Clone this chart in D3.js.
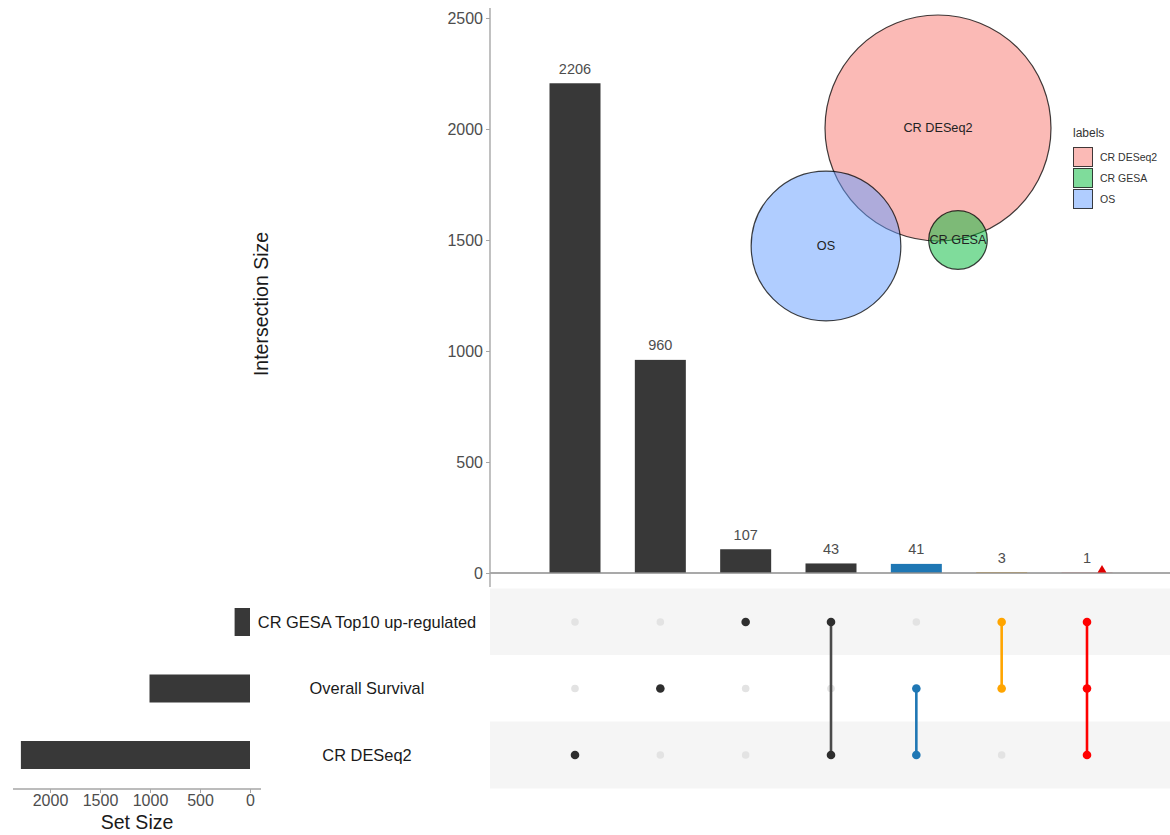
<!DOCTYPE html>
<html>
<head>
<meta charset="utf-8">
<script src="https://cdn.jsdelivr.net/npm/d3@7"></script>
<style>
  html, body { margin: 0; padding: 0; background: #ffffff; }
  svg { display: block; font-family: "Liberation Sans", Arial, Helvetica, sans-serif; }
</style>
</head>
<body>
<svg id="chart" width="1170" height="835"></svg>
<script>
// ---- data ----
const setNames = ["CR GESA Top10 up-regulated", "Overall Survival", "CR DESeq2"];
const setSizes = [154, 1005, 2291];
const intersectionSizes = [2206, 960, 107, 43, 41, 3, 1];
const intersectionMembers = [
  ["CR DESeq2"],
  ["Overall Survival"],
  ["CR GESA Top10 up-regulated"],
  ["CR GESA Top10 up-regulated", "CR DESeq2"],
  ["Overall Survival", "CR DESeq2"],
  ["CR GESA Top10 up-regulated", "Overall Survival"],
  ["CR GESA Top10 up-regulated", "Overall Survival", "CR DESeq2"]
];
const intersectionColors = ["#383838", "#383838", "#383838", "#383838", "#1f77b4", "#ffa500", "#ff0000"];
const yTicks = [0, 500, 1000, 1500, 2000, 2500];
const setSizeTicks = [0, 500, 1000, 1500, 2000];
const vennLabels = ["CR DESeq2", "CR GESA", "OS"];
const vennSizes = [2291, 154, 1005];
const vennFills = ["#F8766D", "#00BA38", "#619CFF"];

// ---- layout ----
const svg = d3.select("#chart");
const grey = "#4d4d4d";
const axisGrey = "#a6a6a6";
const fmt = d3.format("d");

const x = d3.scalePoint().domain(d3.range(intersectionSizes.length)).range([575, 1087]);
const y = d3.scaleLinear().domain([0, 2500]).range([573, 18]);
const rowY = d3.scalePoint().domain(setNames).range([622, 755]);
const setX = d3.scaleLinear().domain([0, 2000]).range([250, 50]);
const barW = 51;
const rowH = 67;

// matrix background stripes
svg.append("g").selectAll("rect").data(setNames).join("rect")
  .attr("x", 490).attr("width", 680)
  .attr("y", d => rowY(d) - rowH / 2).attr("height", rowH)
  .attr("fill", (d, i) => i % 2 === 0 ? "#f5f5f5" : "#ffffff");

// intersection bars
svg.append("g").selectAll("rect").data(intersectionSizes).join("rect")
  .attr("x", (d, i) => x(i) - barW / 2).attr("width", barW)
  .attr("y", d => y(d)).attr("height", d => y(0) - y(d))
  .attr("fill", (d, i) => intersectionColors[i]);

// bar value labels
svg.append("g").selectAll("text").data(intersectionSizes).join("text")
  .attr("x", (d, i) => x(i)).attr("y", d => y(d) - 9.5)
  .attr("text-anchor", "middle").attr("font-size", 14.5).attr("fill", grey)
  .text(d => d);

// baseline and y axis
svg.append("line").attr("x1", 490).attr("x2", 1170).attr("y1", y(0)).attr("y2", y(0))
  .attr("stroke", "#8c8c8c").attr("stroke-width", 1.4);

// highlight marker for the three-way intersection
const lastIdx = intersectionSizes.length - 1;
svg.append("path")
  .attr("d", d3.symbol(d3.symbolTriangle, 34)())
  .attr("transform", `translate(${x(lastIdx) + 15},${y(0) - 3})`)
  .attr("fill", "#e00000");

const yAxis = svg.append("g").attr("transform", "translate(490,0)")
  .call(d3.axisLeft(y).tickValues(yTicks).tickFormat(fmt).tickSize(4).tickPadding(3));
yAxis.select(".domain").remove();
yAxis.selectAll(".tick line").attr("stroke", axisGrey);
yAxis.selectAll(".tick text").attr("font-size", 16).attr("fill", grey)
  .attr("font-family", "Liberation Sans, Arial, sans-serif");
svg.append("line").attr("x1", 490).attr("x2", 490).attr("y1", 8).attr("y2", 587)
  .attr("stroke", axisGrey).attr("stroke-width", 1.4);

svg.append("text").attr("transform", "translate(268,304) rotate(-90)")
  .attr("text-anchor", "middle").attr("font-size", 19.5).attr("fill", "#1a1a1a")
  .text("Intersection Size");

// matrix: inactive dots, then connectors, then active dots
const matrix = svg.append("g");
intersectionMembers.forEach((members, i) => {
  setNames.filter(s => !members.includes(s)).forEach(s => {
    matrix.append("circle").attr("cx", x(i)).attr("cy", rowY(s))
      .attr("r", 3.8).attr("fill", "#e3e3e3");
  });
});
intersectionMembers.forEach((members, i) => {
  const ys = members.map(m => rowY(m));
  const c = intersectionColors[i] === "#383838" ? "#2e2e2e" : intersectionColors[i];
  if (ys.length > 1) {
    matrix.append("line").attr("x1", x(i)).attr("x2", x(i))
      .attr("y1", d3.min(ys)).attr("y2", d3.max(ys))
      .attr("stroke", intersectionColors[i] === "#383838" ? "#4a4a4a" : intersectionColors[i])
      .attr("stroke-width", 2.6);
  }
  ys.forEach(cy => {
    matrix.append("circle").attr("cx", x(i)).attr("cy", cy).attr("r", 4.3).attr("fill", c);
  });
});

// set size bars
svg.append("g").selectAll("rect").data(setSizes).join("rect")
  .attr("x", d => setX(d)).attr("width", d => setX(0) - setX(d))
  .attr("y", (d, i) => rowY(setNames[i]) - 14).attr("height", 28)
  .attr("fill", "#383838");

// set labels
svg.append("g").selectAll("text").data(setNames).join("text")
  .attr("x", 367).attr("y", d => rowY(d)).attr("dy", "0.35em")
  .attr("text-anchor", "middle").attr("font-size", 16.4).attr("fill", "#1a1a1a")
  .text(d => d);

// set size axis
svg.append("line").attr("x1", 13).attr("x2", 261).attr("y1", 789).attr("y2", 789)
  .attr("stroke", axisGrey).attr("stroke-width", 1.4);
const sAxis = svg.append("g").attr("transform", "translate(0,789)")
  .call(d3.axisBottom(setX).tickValues(setSizeTicks).tickFormat(fmt).tickSize(4).tickPadding(2));
sAxis.select(".domain").remove();
sAxis.selectAll(".tick line").attr("stroke", axisGrey);
sAxis.selectAll(".tick text").attr("font-size", 16).attr("fill", grey)
  .attr("font-family", "Liberation Sans, Arial, sans-serif");
svg.append("text").attr("x", 137).attr("y", 829).attr("text-anchor", "middle")
  .attr("font-size", 19.5).attr("fill", "#1a1a1a").text("Set Size");

// ---- Venn inset ----
const r = d3.scaleSqrt().domain([0, d3.max(vennSizes)]).range([0, 113]);
const vennCenters = [[938, 128], [958, 240], [826, 246]];
const drawOrder = [0, 2, 1];
const venn = svg.append("g");
drawOrder.forEach(i => {
  venn.append("circle").attr("cx", vennCenters[i][0]).attr("cy", vennCenters[i][1])
    .attr("r", r(vennSizes[i]))
    .attr("fill", vennFills[i]).attr("fill-opacity", 0.5)
    .attr("stroke", "#000").attr("stroke-opacity", 0.75).attr("stroke-width", 1.2);
});
vennLabels.forEach((lab, i) => {
  venn.append("text").attr("x", vennCenters[i][0]).attr("y", vennCenters[i][1])
    .attr("dy", "0.35em").attr("text-anchor", "middle").attr("font-size", 12.7)
    .attr("fill", "#222").text(lab);
});

// Venn legend
const legend = svg.append("g").attr("transform", "translate(1073,0)");
legend.append("text").attr("x", 0).attr("y", 137).attr("font-size", 12).attr("fill", "#333").text("labels");
vennLabels.forEach((lab, i) => {
  legend.append("rect").attr("x", 0.5).attr("y", 147.5 + i * 21).attr("width", 19).attr("height", 19)
    .attr("fill", vennFills[i]).attr("fill-opacity", 0.5)
    .attr("stroke", "#000").attr("stroke-opacity", 0.75).attr("stroke-width", 1);
  legend.append("text").attr("x", 27).attr("y", 157 + i * 21).attr("dy", "0.35em")
    .attr("font-size", 10.5).attr("fill", "#333").text(lab);
});
</script>
</body>
</html>
